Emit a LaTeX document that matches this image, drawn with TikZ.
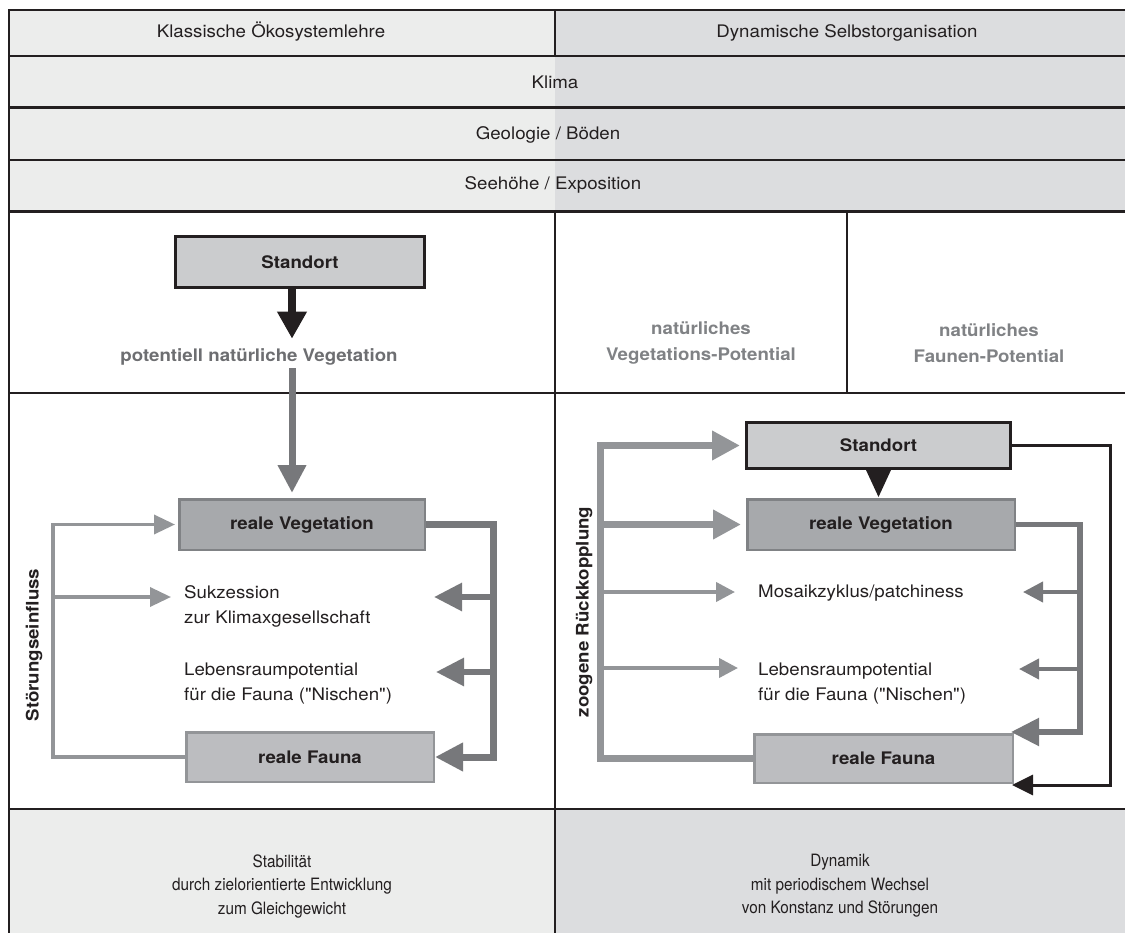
\documentclass[tikz,border=0pt]{standalone}
\usepackage{fontspec}
\setmainfont{TeX Gyre Heros}[FakeStretch=1.08, Ligatures=TeXOff]
\newfontfamily\condfont{TeX Gyre Heros}[FakeStretch=0.9, Ligatures=TeXOff]
\usetikzlibrary{arrows.meta,calc}

\definecolor{ink}{HTML}{231F20}
\definecolor{hdrL}{HTML}{ECEDEC}
\definecolor{hdrR}{HTML}{DCDDDF}
\definecolor{stdfill}{HTML}{CBCCCE}
\definecolor{vegfill}{HTML}{A7A9AC}
\definecolor{vegline}{HTML}{808285}
\definecolor{faufill}{HTML}{BCBDC0}
\definecolor{fauline}{HTML}{939598}
\definecolor{darkarr}{HTML}{77787B}
\definecolor{lightarr}{HTML}{939598}
\definecolor{gtext}{HTML}{6D6E71}
\definecolor{gtextb}{HTML}{808285}

\begin{document}
\begin{tikzpicture}[x=1pt,y=-1pt,
  frame/.style={draw=ink, line width=2.6pt},
  txt/.style={font=\fontsize{17.3}{25}\selectfont, text=ink, inner sep=0pt, text height=12.6pt, text depth=3.6pt},
  btxt/.style={font=\fontsize{17.3}{25}\selectfont\bfseries, text=ink, inner sep=0pt, text height=12.6pt, text depth=3.6pt},
  mtxt/.style={font=\fontsize{17.3}{25}\selectfont, text=ink, inner sep=0pt, align=left},
  gtxt/.style={font=\fontsize{17.3}{26}\selectfont\bfseries, text=gtextb, inner sep=0pt, align=center},
  ftxt/.style={font=\condfont\fontsize{17}{23.5}\selectfont, text=ink, inner sep=0pt, align=center},
  stdbox/.style={draw=ink, line width=3pt, fill=stdfill, font=\fontsize{17.3}{25}\selectfont\bfseries, text=ink},
  vegbox/.style={draw=vegline, line width=2.5pt, fill=vegfill, font=\fontsize{17.3}{25}\selectfont\bfseries, text=ink},
  faubox/.style={draw=fauline, line width=2.5pt, fill=faufill, font=\fontsize{17.3}{25}\selectfont\bfseries, text=ink},
  bigdark/.style={draw=darkarr, line width=7pt, -{Triangle[length=28pt,width=27pt]}},
  meddark/.style={draw=darkarr, line width=5.3pt, -{Triangle[length=28pt,width=27pt]}},
  thindark/.style={draw=darkarr, line width=4pt, -{Triangle[length=20pt,width=20pt]}},
  biglight/.style={draw=lightarr, line width=7pt, -{Triangle[length=28pt,width=28pt]}},
  thinlight/.style={draw=lightarr, line width=4pt, -{Triangle[length=19pt,width=19pt]}},
  slimlight/.style={draw=lightarr, line width=3.5pt, -{Triangle[length=21pt,width=19pt]}},
  blackarr/.style={draw=ink, line width=3pt, -{Triangle[length=21pt,width=20pt]}}
]
\useasboundingbox (0,0) rectangle (1125,933);

% ---------- backgrounds and table lines ----------
\begin{scope}
\clip (0,0) rectangle (1125,933);
\fill[hdrL] (9,10) rectangle (555,211.5);
\fill[hdrR] (555,10) rectangle (1140,211.5);
\fill[hdrL] (9,809) rectangle (555,945);
\fill[hdrR] (555,809) rectangle (1140,945);
\draw[frame] (9,945) -- (9,10) -- (1140,10);
\draw[frame] (9,56) -- (1140,56);
\draw[frame] (9,107.5) -- (1140,107.5);
\draw[frame] (9,160) -- (1140,160);
\draw[frame] (9,211.5) -- (1140,211.5);
\draw[frame] (9,393) -- (1140,393);
\draw[frame] (9,809) -- (1140,809);
\draw[frame] (555,10) -- (555,56);
\draw[frame] (555,211.5) -- (555,945);
\draw[frame] (847,211.5) -- (847,393);
\end{scope}

% ---------- header texts ----------
\node[txt] (tL) at (271,33) {Klassische Ökosystemlehre};
\node[txt] (tR) at (847,33) {Dynamische Selbstorganisation};
\node[txt] (klima) at (555,84) {Klima};
\node[txt] (geo) at (548,135) {Geologie / Böden};
\node[txt] (see) at (553,185) {Seehöhe / Exposition};

% ---------- upper middle ----------
\node[stdbox, minimum width=249pt, minimum height=51pt] (stdL) at (300,262) {Standort};
\node[btxt, text=gtext] (pnv) at (259,357) {potentiell natürliche Vegetation};
\node[gtxt] (nvp) at (701,343) {natürliches\\Vegetations-Potential};
\node[gtxt] (nfp) at (989,343) {natürliches\\Faunen-Potential};

% ---------- lower left ----------
\node[vegbox, minimum width=245.5pt, minimum height=50.5pt] (vegL) at (302,524.5) {reale Vegetation};
\node[faubox, minimum width=247.5pt, minimum height=49.5pt] (fauL) at (310,757) {reale Fauna};
\node[mtxt, anchor=west] (sukz) at (184,606) {Sukzession\\zur Klimaxgesellschaft};
\node[mtxt, anchor=west] (lebL) at (184,684) {Lebensraumpotential\\für die Fauna ("Nischen")};
\node[btxt, rotate=90] (stoer) at (34,645) {Störungseinfluss};

% ---------- lower right ----------
\node[stdbox, minimum width=264pt, minimum height=46pt] (stdR) at (878.5,445.5) {Standort};
\node[vegbox, minimum width=267.5pt, minimum height=50.5pt] (vegR) at (881,524.5) {reale Vegetation};
\node[faubox, minimum width=258.5pt, minimum height=48.5pt] (fauR) at (883.5,758.5) {reale Fauna};
\node[txt, anchor=west] (mosaik) at (758,593) {Mosaikzyklus/patchiness};
\node[mtxt, anchor=west] (lebR) at (758,684) {Lebensraumpotential\\für die Fauna ("Nischen")};
\node[btxt, rotate=90] (zoo) at (584,612) {zoogene Rückkopplung};

% ---------- bottom ----------
\node[ftxt] (stab) at (282,886) {Stabilität\\durch zielorientierte Entwicklung\\zum Gleichgewicht};
\node[ftxt] (dyn) at (840,886) {Dynamik\\mit periodischem Wechsel\\von Konstanz und Störungen};

% ---------- coordinates ----------
\coordinate (axL) at (292,0);
\coordinate (lt) at (53,524.5);
\coordinate (sukzA) at (171,597);
\coordinate (rb) at (493,757);
\coordinate (sukzB) at (434,597);
\coordinate (lebB) at (436,672);
\coordinate (zt) at (600,445.5);
\coordinate (mosA) at (735,592);
\coordinate (lebA) at (738,668);
\coordinate (vb) at (1080,732);
\coordinate (mosB) at (1023,592);
\coordinate (lebBR) at (1019,669);
\coordinate (bb) at (1110,785);

% ---------- connectors left ----------
\draw[draw=ink, line width=8.5pt, -{Triangle[length=27pt,width=28pt]}, shorten >=10pt]
  (stdL.south -| axL) -- (pnv.north -| axL);
\draw[bigdark, shorten <=3pt, shorten >=5pt] (pnv.south -| axL) -- (vegL.north -| axL);
\draw[slimlight, shorten >=3pt] (fauL.west) -| (lt) -- (vegL.west);
\draw[slimlight] (lt |- sukzA) -- (sukzA);
\draw[bigdark] (vegL.east) -| (rb) -- (fauL.east);
\draw[bigdark, line width=6pt] (rb |- sukzB) -- (sukzB);
\draw[bigdark, line width=6pt] (rb |- lebB) -- (lebB);

% ---------- connectors right ----------
\fill[ink] ($(stdR.south)+(-12.5,0)$) -- ($(stdR.south)+(12.5,0)$) -- ($(stdR.south |- vegR.north)+(0,-1)$) -- cycle;
\draw[biglight, shorten >=5pt] (fauR.west) -| (zt) -- (stdR.west);
\draw[biglight, shorten >=5pt] (zt |- vegR.west) -- (vegR.west);
\draw[thinlight] (zt |- mosA) -- (mosA);
\draw[thinlight] (zt |- lebA) -- (lebA);
\draw[meddark, shorten >=-3pt] (vegR.east) -| (vb) -- (fauR.east |- vb);
\draw[thindark] (vb |- mosB) -- (mosB);
\draw[thindark] (vb |- lebBR) -- (lebBR);
\draw[blackarr, shorten >=-2pt] (stdR.east) -| (bb) -- (fauR.east |- bb);
\end{tikzpicture}
\end{document}
